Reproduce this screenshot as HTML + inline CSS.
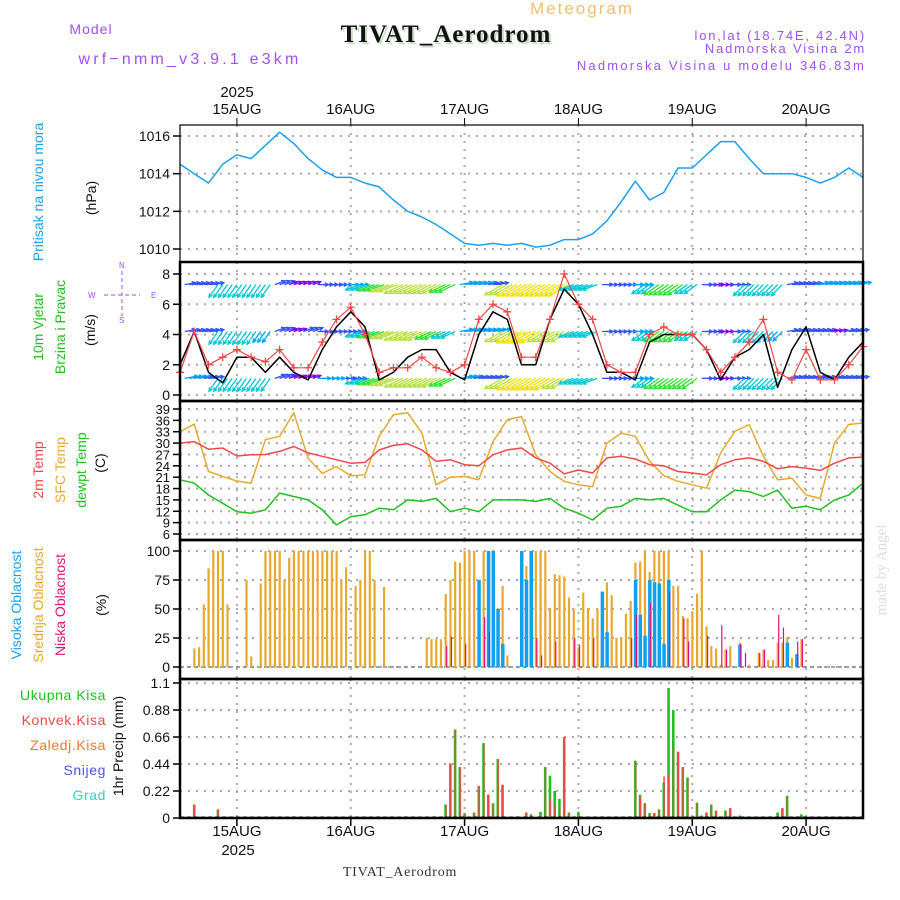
<!DOCTYPE html>
<html><head><meta charset="utf-8"><style>
html,body{margin:0;padding:0;background:#fff;}
svg{display:block;font-family:"Liberation Sans",sans-serif;}
</style></head><body>
<svg id="chart" width="900" height="900" viewBox="0 0 900 900">
<rect x="0" y="0" width="900" height="900" fill="#fff"/>
<text x="582" y="14" fill="#f0c070" font-size="17" letter-spacing="2" text-anchor="middle">Meteogram</text>
<text x="91" y="34" fill="#a050f0" font-size="14" letter-spacing="1" text-anchor="middle">Model</text>
<text x="190" y="64" fill="#a050f0" font-size="16" text-anchor="middle" letter-spacing="3.2">wrf−nmm_v3.9.1 e3km</text>
<text x="448" y="44" fill="#a8c8a0" font-size="25" font-weight="bold" font-family="Liberation Serif, serif" text-anchor="middle" letter-spacing="1" opacity="0.6">TIVAT_Aerodrom</text>
<text x="446" y="42" fill="#111" font-size="25" font-weight="bold" font-family="Liberation Serif, serif" text-anchor="middle" letter-spacing="1">TIVAT_Aerodrom</text>
<text x="866" y="40" fill="#a050f0" font-size="13" text-anchor="end" letter-spacing="1.8">lon,lat (18.74E, 42.4N)</text>
<text x="866" y="53" fill="#a050f0" font-size="13" text-anchor="end" letter-spacing="1.8">Nadmorska Visina 2m</text>
<text x="866" y="70" fill="#a050f0" font-size="13" text-anchor="end" letter-spacing="2.2">Nadmorska Visina u modelu 346.83m</text>
<text x="237" y="97" fill="#111" font-size="15" text-anchor="middle">2025</text>
<text x="400" y="876" fill="#333" font-size="14" font-family="Liberation Serif, serif" text-anchor="middle" letter-spacing="0.8">TIVAT_Aerodrom</text>
<text x="238" y="855" fill="#111" font-size="15" text-anchor="middle">2025</text>
<text transform="translate(886,570) rotate(-90)" fill="#d8e0d8" font-size="15" font-family="Liberation Serif, serif" text-anchor="middle">made by Angel</text>

<text transform="translate(43,192) rotate(-90)" fill="#1aa0f0" font-size="14" text-anchor="middle">Pritisak na nivou mora</text>
<text transform="translate(96,198) rotate(-90)" fill="#111" font-size="14" text-anchor="middle">(hPa)</text>
<text transform="translate(43,327) rotate(-90)" fill="#20c020" font-size="14" text-anchor="middle">10m Vjetar</text>
<text transform="translate(65,327) rotate(-90)" fill="#20c020" font-size="14" text-anchor="middle">Brzina i Pravac</text>
<text transform="translate(95,330) rotate(-90)" fill="#111" font-size="14" text-anchor="middle">(m/s)</text>
<g fill="#a050f0" stroke="#a050f0" font-size="8">
<text x="88" y="298" stroke="none">W</text><text x="151" y="298" stroke="none">E</text>
<text x="119" y="268" stroke="none">N</text><text x="119" y="323" stroke="none">S</text>
<line x1="104" y1="295" x2="140" y2="295" stroke-width="1" stroke-dasharray="4,3"/>
<line x1="122" y1="271" x2="122" y2="316" stroke-width="1" stroke-dasharray="4,3"/>
</g>
<text transform="translate(43,470) rotate(-90)" fill="#f04848" font-size="14" text-anchor="middle">2m Temp</text>
<text transform="translate(65,470) rotate(-90)" fill="#e8a830" font-size="14" text-anchor="middle">SFC Temp</text>
<text transform="translate(86,470) rotate(-90)" fill="#20c020" font-size="14" text-anchor="middle">dewpt Temp</text>
<text transform="translate(105,463) rotate(-90)" fill="#111" font-size="14" text-anchor="middle">(C)</text>
<text transform="translate(21,605) rotate(-90)" fill="#1aa0f0" font-size="14" text-anchor="middle">Visoka Oblacnost</text>
<text transform="translate(43,605) rotate(-90)" fill="#e8a830" font-size="14" text-anchor="middle">Srednja Oblacnost</text>
<text transform="translate(65,605) rotate(-90)" fill="#e0107a" font-size="14" text-anchor="middle">Niska Oblacnost</text>
<text transform="translate(106,605) rotate(-90)" fill="#111" font-size="14" text-anchor="middle">(%)</text>
<g font-size="14" text-anchor="end" letter-spacing="0.6">
<text x="106" y="700" fill="#20c020">Ukupna Kisa</text>
<text x="106" y="725" fill="#f04848">Konvek.Kisa</text>
<text x="106" y="750" fill="#f07830">Zaledj.Kisa</text>
<text x="106" y="775" fill="#5050f0">Snijeg</text>
<text x="106" y="800" fill="#30d0d0">Grad</text>
</g>
<text transform="translate(123,746) rotate(-90)" fill="#111" font-size="14" text-anchor="middle">1hr Precip (mm)</text>
<g id="plot"></g>
</svg>
<script>
// time in hours from 14AUG 12Z; 3-hourly line series
const dayLabels = ["15AUG","16AUG","17AUG","18AUG","19AUG","20AUG"];
const pressure = [1014.5,1014.0,1013.5,1014.5,1015.0,1014.8,1015.5,1016.2,1015.6,1014.8,1014.2,1013.8,1013.8,1013.5,1013.3,1012.6,1012.0,1011.7,1011.3,1010.8,1010.3,1010.2,1010.3,1010.2,1010.3,1010.1,1010.2,1010.5,1010.5,1010.8,1011.5,1012.5,1013.6,1012.6,1013.0,1014.3,1014.3,1015.0,1015.7,1015.7,1014.8,1014.0,1014.0,1014.0,1013.8,1013.5,1013.8,1014.3,1013.8];
const windSpeed = [2,4.2,1.5,0.8,2.5,2.5,1.5,2.5,1.5,1,3,4.5,5.5,4.5,1,1.5,2.5,3,3,1.5,1,4,5.5,5,2,2,5,7,6,4,1.5,1.5,1,3.5,4,4,4,3,1,2.5,3,4,0.5,3,4.5,1.5,1,2.5,3.5];
const windGust = [1.5,4.2,2,2.5,3,2.5,2.2,3,1.8,1.8,3.5,5,5.8,4,1.5,1.8,1.8,2.5,1.8,1.5,2,5,6,5.5,2.5,2.5,5,8,6,5,2,1.5,1.5,4,4.5,4,4,3,1.5,2.5,3.5,5,1.5,1,3,1,1,2,3.2];
const windDir = [10,10,10,235,235,235,235,20,20,20,0,0,0,200,200,200,205,205,205,205,10,10,10,210,210,210,210,210,200,200,0,0,0,215,215,215,215,0,0,0,225,225,225,10,10,10,10,10,10];
const windRowLevels = [7.3,4.2,1.1];
const rowSpeedTop = [2,2,2,4,4,4,4,2,1,1,2,2,3,4,5,6,6,6,6,5,3,3,2,6,7,7,7,7,4,4,2,2,3,4,5,5,4,2,1,2,4,4,4,2,2,3,3,3,3];
const rowSpeedMid = [2,2,2,4,4,4,3,2,1,2,2,2,2,4,5,6,6,6,5,4,3,3,3,6,7,7,6,6,4,4,2,2,3,4,5,5,4,2,1,2,4,4,3,2,2,2,1,2,2];
const rowSpeedLow = [3,3,2,4,4,4,4,2,1,1,3,3,2,4,5,6,6,6,6,5,3,2,2,6,7,7,7,6,4,4,2,2,3,4,5,5,5,2,1,2,4,4,4,2,2,2,2,2,2];
const sfcTemp = [33,35,22.5,21.2,20,19.4,30.9,31.8,38,26,22,23.8,21.4,21.6,31.8,37.5,38,32.6,19,21,21.2,20.3,30.4,36.2,37,26.9,22.5,19.9,19,18.5,30,32.6,31.8,25.2,21.4,19.9,19,18.1,27.4,33.1,34.9,26.5,20.3,20.7,16.3,15.4,30,34.9,35.3];
const temp2m = [30,30.4,28.4,28.7,26.6,26.9,27,27.8,29.1,27.4,26.5,25.6,24.7,24.9,28.2,29.4,29.8,28.2,25.2,25.6,24.3,24,26.9,28.2,28.7,26.1,24.7,21.9,22.9,22.1,26.1,26.5,25.8,24.3,24,22.5,22.1,21.6,24.3,25.6,26.1,25.2,23.2,23.8,23.4,22.8,24.7,26.1,26.3];
const dewpt = [20.3,19.4,16.3,14.1,11.9,11.5,12.4,16.8,15.9,15,12.4,8.4,10.6,11.1,12.8,12.4,15,14.6,15.4,11.9,12.8,11.9,15,15,15,14.6,15.4,12.8,11.5,9.7,12.8,13.3,15.4,15,15.4,13.6,11.9,11.9,15,17.6,17.2,15.9,17.6,12.8,13.3,12.4,15,16.3,19.4];
// hourly bar series (hour, value)
const midCloudHours = [3,4,5,6,7,8,9,10,14,15,17,18,19,20,21,22,23,24,25,26,27,28,29,30,31,32,33,34,35,37,38,39,40,41,43,52,53,54,55,56,57,58,59,60,61,62,64,65,66,67,68,69,72,73,74,75,76,77,78,79,80,81,82,83,84,85,86,87,88,89,90,91,92,93,94,95,96,97,98,99,100,101,102,103,104,105,106,107,108,109,110,111,112,113,114,115,116,118,120,122,123,124,125,126,127,128,129,130,131];
const midCloud = [16,17,54,85,100,100,100,54,75,9,72,100,100,100,100,75,94,100,100,100,100,100,100,100,100,100,100,75,86,70,75,100,100,75,69,25,24,24,24,63,75,91,90,100,100,100,100,80,80,51,70,10,100,87,100,100,100,100,51,80,79,78,60,50,17,64,51,42,50,39,73,62,25,25,46,57,90,91,100,82,100,100,100,100,70,70,44,42,48,63,100,35,18,16,2,15,18,21,2,12,15,6,6,21,21,26,8,11,24];
const highCloudHours = [63,65,66,67,68,72,73,74,89,90,96,97,98,99,100,101,102,103,118,128,130];
const highCloud = [75,100,100,50,20,100,75,100,65,30,75,45,27,75,73,72,20,75,19,21,11];
const lowCloudHours = [56,57,60,64,65,75,76,79,83,84,87,95,96,99,103,106,107,111,114,115,118,119,122,123,126,127,130,131];
const lowCloud = [18,26,20,43,30,25,10,22,25,19,25,25,45,55,65,42,22,27,36,15,20,12,12,15,45,34,22,24];
const precipHours = [3,4,8,56,57,58,59,60,62,63,64,65,66,67,68,73,74,76,77,78,79,80,81,82,84,96,97,98,99,100,101,102,103,104,105,106,107,109,110,111,112,113,115,116,118,123,126,127,128,131];
const precipTotal = [0.11,0.01,0.07,0.11,0.445,0.72,0.415,0.04,0.045,0.26,0.61,0.19,0.12,0.48,0.27,0.045,0.03,0.05,0.415,0.345,0.22,0.155,0.66,0.045,0.05,0.465,0.19,0.12,0.04,0.04,0.07,0.29,1.06,0.88,0.54,0.415,0.33,0.125,0.02,0.045,0.11,0.06,0.06,0.08,0.02,0.01,0.045,0.08,0.18,0.03];
const precipConv = [0.11,0.01,0.07,0.11,0.445,0.72,0.415,0.03,0.04,0.26,0.61,0.19,0.12,0.48,0.27,0.045,0.03,0.0,0.415,0.16,0.1,0.1,0.66,0.045,0.0,0.465,0.17,0.12,0.04,0.04,0.07,0.34,0.34,0.57,0.54,0.415,0.33,0.125,0.0,0.045,0.11,0.06,0.06,0.08,0.0,0.01,0.0,0.08,0.18,0.0];

const NS="http://www.w3.org/2000/svg";
const plot=document.getElementById('plot');
const X0=180,X1=863,HOURS=144;
const xs=h=>X0+(h/HOURS)*(X1-X0);
function el(tag,attrs,parent){const e=document.createElementNS(NS,tag);for(const k in attrs)e.setAttribute(k,attrs[k]);(parent||plot).appendChild(e);return e;}
const panels=[
 {name:'pressure',top:125,bot:262,y0:249,y1:136,v0:1010,v1:1016,ticks:[1010,1012,1014,1016],fmt:v=>v},
 {name:'wind',top:262,bot:401,y0:395,y1:274,v0:0,v1:8,ticks:[0,2,4,6,8],fmt:v=>v},
 {name:'temp',top:401,bot:540,y0:534,y1:409,v0:6,v1:39,ticks:[6,9,12,15,18,21,24,27,30,33,36,39],fmt:v=>v},
 {name:'cloud',top:540,bot:679,y0:667,y1:551,v0:0,v1:100,ticks:[0,25,50,75,100],fmt:v=>v},
 {name:'precip',top:679,bot:818,y0:818,y1:683,v0:0,v1:1.1,ticks:[0,0.22,0.44,0.66,0.88,1.1],fmt:v=>v}
];
panels.forEach(p=>{p.y=v=>p.y0+(v-p.v0)/(p.v1-p.v0)*(p.y1-p.y0);});
panels.forEach(p=>{
 const g=el('g',{});
 
 
 p.ticks.forEach(t=>{
  const y=p.y(t);
  if(y>p.top+2&&y<p.bot-2){
   const gl=el('line',{x1:X0,x2:X1,y1:y,y2:y,stroke:'#aaa','stroke-width':2,'stroke-dasharray':'2,6'},g);
   
   
  }
  el('line',{x1:X0-7,x2:X0,y1:y,y2:y,stroke:'#000','stroke-width':1.5},g);
  const tx=el('text',{x:X0-10,y:y+5,'text-anchor':'end','font-size':p.name==='temp'?13:14,fill:'#111'},g);
  tx.textContent=p.fmt(t);
  
  
 });
 dayLabels.forEach((d,i)=>{
  const x=xs(12+i*24);
  const vl=el('line',{x1:x,x2:x,y1:p.top,y2:p.bot,stroke:'#aaa','stroke-width':2,'stroke-dasharray':'2,6'},g);
  
  
 });
});
dayLabels.forEach((d,i)=>{
 const x=xs(12+i*24);
 const t1=el('text',{x:x,y:114,'text-anchor':'middle','font-size':15,fill:'#111'});
 t1.textContent=d;
 
 
 el('line',{x1:x,x2:x,y1:118,y2:125,stroke:'#000'});
 const t2=el('text',{x:x,y:836,'text-anchor':'middle','font-size':15,fill:'#111'});
 t2.textContent=d;
 
 
 el('line',{x1:x,x2:x,y1:818,y2:826,stroke:'#000','stroke-width':1.5});
});
function line(arr,p,color,name,w){
 const pts=arr.map((v,i)=>xs(i*3).toFixed(1)+','+p.y(v).toFixed(1)).join(' ');
 const l=el('polyline',{points:pts,fill:'none',stroke:color,'stroke-width':w||1.5,'stroke-linejoin':'round'});
 
 
}
line(pressure,panels[0],'#1aa0f0','pressure-line');
const windColors=['#8000ff','#8000ff','#3050ff','#00a0ff','#00c8d8','#30e030','#b8e040','#f0e000','#ff70c0'];
const wp=panels[1];
[rowSpeedTop,rowSpeedMid,rowSpeedLow].forEach((row,ri)=>{
 const g=el('g',{});
 
 
 row.forEach((s,i)=>{
  const a=windDir[i]*Math.PI/180;
  const L=6+s*2.4;
  const col=windColors[Math.min(8,Math.round(s))];
  for(let k=-1;k<=1;k++){
   const x=xs(i*3)+k*4.75, y=wp.y(windRowLevels[ri]);
   if(x<X0+2||x>X1-2)continue;
   const dx=Math.cos(a)*L, dy=-Math.sin(a)*L;
   const x2=x+dx,y2=y+dy;
   const ar=el('line',{x1:x,y1:y,x2:x2,y2:y2,stroke:col,'stroke-width':1.3},g);
   
   
   const h1=a+Math.PI*0.85,h2=a-Math.PI*0.85;
   el('polyline',{points:`${x2+Math.cos(h1)*4},${y2-Math.sin(h1)*4} ${x2},${y2} ${x2+Math.cos(h2)*4},${y2-Math.sin(h2)*4}`,fill:'none',stroke:col,'stroke-width':1.3},g);
  }
 });
});
line(windSpeed,wp,'#000','wind-speed-line',1.5);
line(windGust,wp,'#f04848','wind-gust-line',1.2);
windGust.forEach((v,i)=>{
 const x=xs(i*3),y=wp.y(v);
 const c=el('path',{d:`M${x-4},${y}h8M${x},${y-4}v8`,stroke:'#f04848','stroke-width':1.3});
 
 
});
const tp=panels[2];
line(sfcTemp,tp,'#e8a830','sfc-temp-line');
line(temp2m,tp,'#f04848','temp-2m-line');
line(dewpt,tp,'#20c020','dewpt-line');
const cp=panels[3];
function bars(hours,vals,p,color,name,w,off){
 hours.forEach((h,i)=>{
  const y=p.y(vals[i]),y0=p.y(0);
  const r=el('rect',{x:xs(h)+off,y:Math.min(y,y0),width:w,height:Math.abs(y0-y),fill:color});
  
  
 });
}
el('line',{x1:X0,x2:X1,y1:cp.y(0),y2:cp.y(0),stroke:'#8080c0','stroke-width':1.5,'stroke-dasharray':'4,3'});
bars(midCloudHours,midCloud,cp,'#e8a830','mid-cloud-bar',2.2,-1);
bars(highCloudHours,highCloud,cp,'#10a0f0','high-cloud-bar',3.5,-1.5);
bars(lowCloudHours,lowCloud,cp,'#e0107a','low-cloud-bar',1.2,0.5);
const pp=panels[4];
bars(precipHours,precipTotal,pp,'#20c020','precip-total-bar',2.6,-1.3);
bars(precipHours,precipConv,pp,'#f04848','precip-conv-bar',1.5,-0.5);
el('line',{x1:X0,x2:X1,y1:pp.y(0)-1,y2:pp.y(0)-1,stroke:'#000','stroke-width':1,'stroke-dasharray':'4,3'});
panels.forEach(p=>{
 const f=el('rect',{x:X0,y:p.top,width:X1-X0,height:p.bot-p.top,fill:'none',stroke:'#000','stroke-width':p.name==='pressure'?1.2:2.5});
 
 
});
</script>
</body></html>
